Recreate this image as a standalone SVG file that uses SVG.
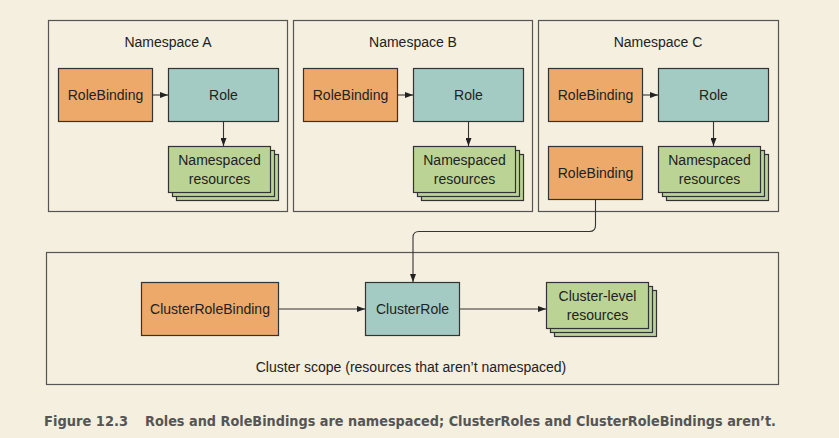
<svg xmlns="http://www.w3.org/2000/svg" width="839" height="438" viewBox="0 0 839 438">
<style>
.bg{fill:#f4efde}
.ns{fill:#f4efde;stroke:#555;stroke-width:1.2}
.rb{fill:#eca96a;stroke:#333;stroke-width:1.2}
.role{fill:#a3cbc3;stroke:#333;stroke-width:1.2}
.res{fill:#bcd396;stroke:#333;stroke-width:1.2}
.t{font-family:"Liberation Sans",Arial,sans-serif;font-size:14px;fill:#222;text-anchor:middle}
.c{fill:none;stroke:#333;stroke-width:1.1}
.cap{font-family:"DejaVu Sans Condensed","Liberation Sans Narrow","DejaVu Sans",sans-serif;font-weight:bold;font-stretch:condensed;font-size:14.5px;fill:#555}
</style>
<defs>
<marker id="ah" viewBox="0 0 8 6" refX="8" refY="3" markerWidth="8" markerHeight="6" markerUnits="userSpaceOnUse" orient="auto">
<path d="M0,0 L8,3 L0,6 Z" fill="#222"/>
</marker>
<g id="stack">
<rect x="8" y="8" width="102" height="46" class="res"/>
<rect x="4" y="4" width="102" height="46" class="res"/>
<rect x="0" y="0" width="102" height="46" class="res"/>
</g>
</defs>
<rect class="bg" x="0" y="0" width="839" height="438"/>

<g id="nsA">
<rect class="ns" x="48.5" y="20.5" width="239" height="191"/>
<text class="t" x="168" y="47">Namespace A</text>
</g>
<g id="nsB">
<rect class="ns" x="293.5" y="20.5" width="239" height="191"/>
<text class="t" x="413" y="47">Namespace B</text>
</g>
<g id="nsC">
<rect class="ns" x="538.5" y="20.5" width="240" height="191"/>
<text class="t" x="658" y="47">Namespace C</text>
</g>
<g id="cluster">
<rect class="ns" x="46.5" y="252.5" width="732" height="132"/>
<text class="t" x="411" y="372">Cluster scope (resources that aren’t namespaced)</text>
</g>

<g id="rbA"><rect class="rb" x="58.5" y="68.5" width="94" height="53"/><text class="t" x="105.5" y="100">RoleBinding</text></g>
<g id="roleA"><rect class="role" x="168.5" y="68.5" width="110" height="53"/><text class="t" x="223.5" y="100">Role</text></g>
<g id="resA"><use href="#stack" x="168.5" y="146.5"/><text class="t" x="219.5" y="165">Namespaced</text><text class="t" x="219.5" y="184">resources</text></g>

<g id="rbB"><rect class="rb" x="303.5" y="68.5" width="94" height="53"/><text class="t" x="350.5" y="100">RoleBinding</text></g>
<g id="roleB"><rect class="role" x="413.5" y="68.5" width="110" height="53"/><text class="t" x="468.5" y="100">Role</text></g>
<g id="resB"><use href="#stack" x="413.5" y="146.5"/><text class="t" x="464.5" y="165">Namespaced</text><text class="t" x="464.5" y="184">resources</text></g>

<g id="rbC"><rect class="rb" x="548.5" y="68.5" width="94" height="53"/><text class="t" x="595.5" y="100">RoleBinding</text></g>
<g id="roleC"><rect class="role" x="658.5" y="68.5" width="110" height="53"/><text class="t" x="713.5" y="100">Role</text></g>
<g id="resC"><use href="#stack" x="658.5" y="146.5"/><text class="t" x="709.5" y="165">Namespaced</text><text class="t" x="709.5" y="184">resources</text></g>
<g id="rbC2"><rect class="rb" x="548.5" y="146.5" width="94" height="53"/><text class="t" x="595.5" y="178">RoleBinding</text></g>

<g id="crb"><rect class="rb" x="141.5" y="282.5" width="137" height="53"/><text class="t" x="210" y="314">ClusterRoleBinding</text></g>
<g id="cr"><rect class="role" x="365.5" y="282.5" width="94" height="53"/><text class="t" x="412.5" y="314">ClusterRole</text></g>
<g id="clres"><use href="#stack" x="546.5" y="282.5"/><text class="t" x="597.5" y="301">Cluster-level</text><text class="t" x="597.5" y="320">resources</text></g>

<g id="connectors">
<path class="c" d="M152.5,95 H168" marker-end="url(#ah)"/>
<path class="c" d="M223.5,121.5 V146" marker-end="url(#ah)"/>
<path class="c" d="M397.5,95 H413" marker-end="url(#ah)"/>
<path class="c" d="M468.5,121.5 V146" marker-end="url(#ah)"/>
<path class="c" d="M642.5,95 H658" marker-end="url(#ah)"/>
<path class="c" d="M713.5,121.5 V146" marker-end="url(#ah)"/>
<path class="c" d="M595.5,199.5 V225.5 Q595.5,231.5 589.5,231.5 H419 Q413,231.5 413,237.5 V282" marker-end="url(#ah)"/>
<path class="c" d="M278.5,309 H365" marker-end="url(#ah)"/>
<path class="c" d="M459.5,309 H546" marker-end="url(#ah)"/>
</g>

<g id="caption">
<text class="cap" x="44" y="426" textLength="84" lengthAdjust="spacingAndGlyphs">Figure 12.3</text>
<text class="cap" x="145" y="426" textLength="631" lengthAdjust="spacingAndGlyphs">Roles and RoleBindings are namespaced; ClusterRoles and ClusterRoleBindings aren’t.</text>
</g>
</svg>
